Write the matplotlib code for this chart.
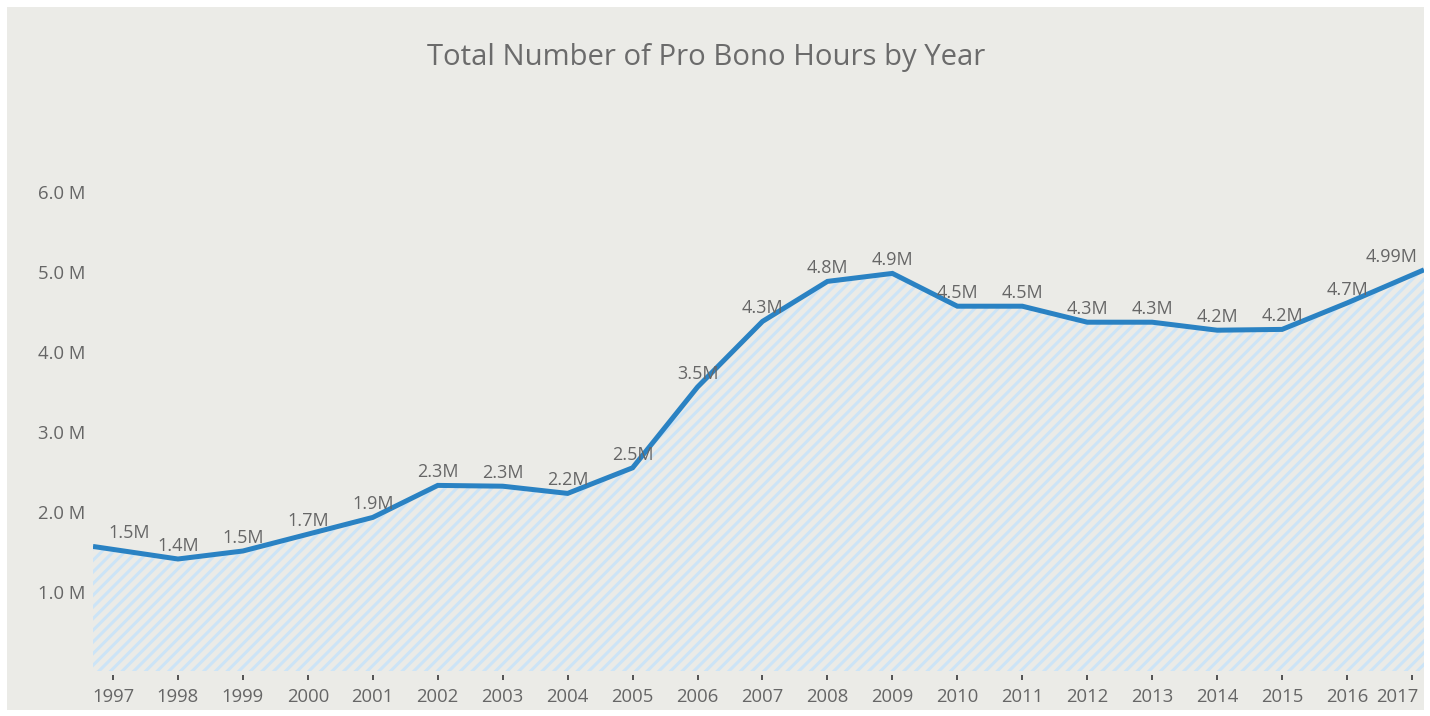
import numpy as np
import matplotlib
matplotlib.use("Agg")
import matplotlib.pyplot as plt
import matplotlib.transforms as mtransforms

# ---- data ----
years = list(range(1997, 2018))
hours_m = [1.52, 1.40, 1.50, 1.71, 1.92, 2.32, 2.31, 2.22, 2.54, 3.55, 4.37,
           4.87, 4.97, 4.56, 4.56, 4.36, 4.36, 4.26, 4.27, 4.60, 4.95]
point_labels = ["1.5M", "1.4M", "1.5M", "1.7M", "1.9M", "2.3M", "2.3M", "2.2M",
                "2.5M", "3.5M", "4.3M", "4.8M", "4.9M", "4.5M", "4.5M", "4.3M",
                "4.3M", "4.2M", "4.2M", "4.7M", "4.99M"]
ytick_vals = [1, 2, 3, 4, 5, 6]
ytick_labels = ["1.0 M", "2.0 M", "3.0 M", "4.0 M", "5.0 M", "6.0 M"]
title = "Total Number of Pro Bono Hours by Year"

DPI = 70
W, H = 1430, 717
def pt(px):
    return px * 72.0 / DPI

plt.rcParams['font.family'] = ['Open Sans', 'DejaVu Sans']
plt.rcParams['hatch.linewidth'] = pt(3.0)

TXT = '#666666'
LINE = '#2A82C3'
HATCH = '#CCE4F7'
PANEL = '#EBEBE7'

fig = plt.figure(figsize=(W / DPI, H / DPI), dpi=DPI, facecolor='white')
# gray panel
fig.patches.append(plt.Rectangle((7 / W, 1 - 711 / H), (1424 - 7) / W, (711 - 8) / H,
                                 transform=fig.transFigure, facecolor=PANEL,
                                 edgecolor='none', zorder=-10))

ax = fig.add_axes([93 / W, 1 - 676 / H, (1424 - 93) / W, (676 - 144) / H])
ax.set_zorder(2)
ax.set_facecolor('none')
x = np.array(years, dtype=float)
y = np.array(hours_m)
xl, xr = 1996.692, 2017.185
ax.set_xlim(xl, xr)
ax.set_ylim(-0.05, 6.6)

# extend first and last segments to the plot edges
y_left = y[0] + (y[0] - y[1]) * (x[0] - xl)
y_right = y[-1] + (y[-1] - y[-2]) * (xr - x[-1])
xe = np.concatenate([[xl], x, [xr]])
ye = np.concatenate([[y_left], y, [y_right]])

ax.fill_between(xe, 0, ye, facecolor='none', edgecolor=HATCH, hatch='//',
                linewidth=0, zorder=1)
ax.plot(xe, ye, color=LINE, linewidth=pt(5), solid_joinstyle='miter',
        solid_capstyle='butt', zorder=3, clip_on=True)

for i, (xi, yi, lab) in enumerate(zip(x, y, point_labels)):
    if i == len(x) - 1:
        ax.annotate(lab, (xr, y_right), xytext=(pt(-6), pt(9)),
                    textcoords='offset points', ha='right', va='baseline',
                    fontsize=pt(18), color=TXT, zorder=4)
    elif i == 0:
        ax.annotate(lab, (xl, y_left), xytext=(pt(15), pt(9)),
                    textcoords='offset points', ha='left', va='baseline',
                    fontsize=pt(18), color=TXT, zorder=4)
    else:
        ax.annotate(lab, (xi, yi), xytext=(0, pt(9)), textcoords='offset points',
                    ha='center', va='baseline', fontsize=pt(18), color=TXT, zorder=4)

for s in ax.spines.values():
    s.set_visible(False)

ax.set_xticks(years)
ax.set_xticklabels([str(v) for v in years])
ax.tick_params(axis='x', length=pt(5), width=pt(2), color='#555555', pad=pt(7),
               labelsize=pt(18.5), labelcolor=TXT)
last = ax.get_xticklabels()[-1]
last.set_ha('right')
last.set_transform(last.get_transform() +
                   mtransforms.ScaledTranslation(6 / DPI, 0, fig.dpi_scale_trans))
ax.set_yticks(ytick_vals)
ax.set_yticklabels(ytick_labels)
ax.tick_params(axis='y', length=0, pad=pt(8), labelsize=pt(18.5), labelcolor=TXT)

fig.text(706 / W, 1 - 58 / H, title, ha='center', va='center',
         fontsize=pt(29.3), color='#6B6B6B')

fig.savefig('out.png', dpi=DPI, facecolor='white')
